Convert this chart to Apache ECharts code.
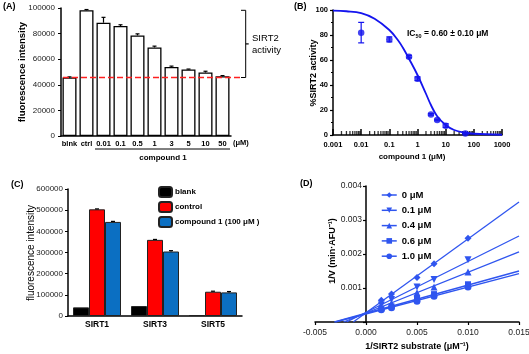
<!DOCTYPE html>
<html lang="en">
<head>
<meta charset="UTF-8">
<title>SIRT2 inhibition</title>
<script src="https://cdn.jsdelivr.net/npm/echarts@6/dist/echarts.min.js"></script>
<style>
    html, body { margin: 0; padding: 0; background: #fff; }
    #main { width: 529px; height: 354px; }
</style>
</head>
<body>
<div id="main"></div>
<script>
    // (A) fluorescence per concentration
    const aCats = ['blnk', 'ctrl', '0.01', '0.1', '0.5', '1', '3', '5', '10', '50'];
    const aValues = [45700, 98200, 88500, 85900, 78600, 69200, 54000, 52000, 49600, 46700];
    const aErrors = [500, 600, 4200, 1000, 1200, 1000, 600, 300, 1000, 500];

    // (B) dose response
    const bConc = [0.01, 0.1, 0.5, 1, 3, 5, 10, 50];
    const bActivity = [81.9, 76.5, 62.7, 45, 16.5, 12, 7.5, 1.3];
    const bErrors = [8.2, 2, 1, 1.5, 0.6, 0.6, 1.5, 0.5];
    const bCurveX = [0.001, 0.003, 0.01, 0.03, 0.1, 0.2, 0.3, 0.5, 1, 2, 3, 5, 10, 20, 50, 100, 1000];
    const bCurveY = [99.5, 99, 97.5, 93, 84, 76, 70, 61, 48, 33, 24, 15, 8, 4, 1.8, 1, 0.2];

    // (C) selectivity
    const cCats = ['SIRT1', 'SIRT3', 'SIRT5'];
    const cBlank = [40800, 47000, 4700];
    const cControl = [504000, 359700, 114700];
    const cControlErr = [2000, 2000, 2500];
    const cCompound = [444500, 304700, 111500];
    const cCompoundErr = [2500, 4000, 4000];

    // (D) Lineweaver-Burk
    const dSubstrate = [0.0015, 0.0025, 0.005, 0.00667, 0.01];
    const dNames = ['0 \u03bcM', '0.1 \u03bcM', '0.4 \u03bcM', '0.6 \u03bcM', '1.0 \u03bcM'];
    const dRates = [
        [0.00064, 0.00082, 0.00131, 0.00171, 0.00246],
        [0.00050, 0.00066, 0.00103, 0.00125, 0.00183],
        [0.00043, 0.00055, 0.00086, 0.00103, 0.00147],
        [0.00039, 0.00046, 0.00068, 0.00082, 0.00111],
        [0.00036, 0.00042, 0.00061, 0.00076, 0.00103]
    ];
    const dFitStartX = [-0.00125, -0.0019, -0.0022, -0.0031, -0.0030];
    const dFitEndX = 0.015;
    const dFitEndY = [0.00353, 0.00253, 0.00206, 0.00150, 0.00142];
    const dSymbols = ['diamond', 'path://M0,0 L10,0 L5,9 Z', 'triangle', 'rect', 'circle'];

    const FONT = 'Liberation Sans, Arial, sans-serif';
    const BLUE_B = '#1414ee';
    const BLUE_D = '#2f55ef';

    // log minor ticks for panel B
    const bMinorTicks = [];
    for (let d = -3; d < 3; d++) {
        for (let k = 2; k <= 9; k++) {
            bMinorTicks.push([parseFloat((k * Math.pow(10, d)).toPrecision(3)), 0]);
        }
    }

    function errorBar(color, capW, offset, both) {
        return function (params, api) {
            const x = api.value(0);
            const lo = api.coord([x, api.value(1)]);
            const hi = api.coord([x, api.value(2)]);
            const cx = lo[0] + offset;
            const st = { stroke: color, lineWidth: 1.2 };
            const kids = [
                { type: 'line', shape: { x1: cx, y1: lo[1], x2: cx, y2: hi[1] }, style: st },
                { type: 'line', shape: { x1: cx - capW / 2, y1: hi[1], x2: cx + capW / 2, y2: hi[1] }, style: st }
            ];
            if (both) {
                kids.push({ type: 'line', shape: { x1: cx - capW / 2, y1: lo[1], x2: cx + capW / 2, y2: lo[1] }, style: st });
            }
            return { type: 'group', children: kids };
        };
    }

    // red baseline + bracket right of panel A, y from data
    function bracket(params, api) {
        const cs = params.coordSys;
        const yTop = api.coord([0, api.value(1)])[1];
        const yBot = api.coord([0, api.value(2)])[1];
        const yMid = (yTop + yBot) / 2;
        const xr = cs.x + cs.width;
        const bx = xr + 14.7;
        const k = { stroke: '#000', lineWidth: 1 };
        return {
            type: 'group', children: [
                { type: 'line', shape: { x1: cs.x + 2, y1: yBot, x2: xr + 10, y2: yBot }, style: { stroke: '#ff2020', lineWidth: 1.5, lineDash: [6, 3] } },
                { type: 'polyline', shape: { points: [[xr + 10, yTop], [bx, yTop], [bx, yBot], [xr + 10, yBot]] }, style: Object.assign({ fill: null }, k) },
                { type: 'line', shape: { x1: bx, y1: yMid, x2: bx + 3, y2: yMid }, style: { stroke: '#000', lineWidth: 1.2 } }
            ]
        };
    }

    const axisBlack = { lineStyle: { color: '#000', width: 1.5 } };
    const tickTxt = { fontFamily: FONT, fontSize: 8, color: '#222' };
    const boldTxt = { fontFamily: FONT, fontSize: 7.5, fontWeight: 'bold', color: '#000' };

    function txt(x, y, text, size, bold, align) {
        return {
            type: 'text', x: x, y: y,
            style: {
                text: text, fontFamily: FONT, fontSize: size, fontWeight: bold ? 'bold' : 'normal',
                fill: '#000', textAlign: align || 'left', textVerticalAlign: 'middle'
            }
        };
    }
    function vtxt(x, y, text, size, bold) {
        return {
            type: 'text', x: x, y: y, rotation: Math.PI / 2,
            style: {
                text: text, fontFamily: FONT, fontSize: size, fontWeight: bold ? 'bold' : 'normal',
                fill: '#000', textAlign: 'center', textVerticalAlign: 'middle'
            }
        };
    }

    const dGridLeft = 315, dGridWidth = 204, dXMin = -0.005, dXMax = 0.015;

    const chart = echarts.init(document.getElementById('main'));
    const option = {
        animation: false,
        backgroundColor: '#fff',
        textStyle: { fontFamily: FONT },
        grid: [
            { left: 61, top: 8, width: 170, height: 128, outerBoundsMode: 'none' },
            { left: 333, top: 10, width: 169, height: 125, outerBoundsMode: 'none' },
            { left: 68, top: 189, width: 174, height: 127, outerBoundsMode: 'none' },
            { left: dGridLeft, top: 186, width: dGridWidth, height: 136, outerBoundsMode: 'none' }
        ],
        xAxis: [
            {
                gridIndex: 0, type: 'category', data: aCats,
                axisLine: axisBlack, axisTick: { show: false },
                axisLabel: Object.assign({ margin: 4, interval: 0 }, boldTxt)
            },
            { gridIndex: 0, type: 'value', min: 0, max: 1, show: false },
            {
                gridIndex: 1, type: 'log', logBase: 10, min: 0.001, max: 1000,
                axisLine: axisBlack,
                axisTick: { inside: true, length: 6, lineStyle: { width: 1.5, color: '#000' } },
                axisLabel: Object.assign({
                    margin: 6,
                    formatter: v => String(parseFloat(Number(v).toPrecision(6)))
                }, boldTxt),
                splitLine: { show: false }
            },
            {
                gridIndex: 2, type: 'category', data: cCats,
                axisLine: axisBlack, axisTick: { show: false },
                axisLabel: Object.assign({}, boldTxt, { margin: 4, fontSize: 8.5 })
            },
            {
                gridIndex: 3, type: 'value', min: dXMin, max: dXMax, interval: 0.005,
                axisLine: axisBlack,
                axisTick: { length: 3, lineStyle: { color: '#000', width: 1.2 } },
                axisLabel: Object.assign({}, tickTxt, { fontSize: 8.5, margin: 6, formatter: v => v.toFixed(3) }),
                splitLine: { show: false }
            }
        ],
        yAxis: [
            {
                gridIndex: 0, type: 'value', min: 0, max: 100000, interval: 20000,
                axisLine: { show: true, lineStyle: { color: '#000', width: 1.5 } },
                axisTick: { show: true, length: 3, lineStyle: { color: '#000' } },
                axisLabel: Object.assign({ margin: 6, formatter: v => String(v) }, tickTxt),
                splitLine: { show: false }
            },
            {
                gridIndex: 1, type: 'value', min: 0, max: 100, interval: 20,
                axisLine: { show: true, lineStyle: { color: '#000', width: 1.5 } },
                axisTick: { show: true, length: 3, lineStyle: { color: '#000', width: 1.2 } },
                minorTick: { show: true, splitNumber: 2, length: 2, lineStyle: { color: '#000' } },
                axisLabel: Object.assign({ margin: 5 }, boldTxt),
                splitLine: { show: false }
            },
            {
                gridIndex: 2, type: 'value', min: 0, max: 600000, interval: 100000,
                axisLine: { show: true, lineStyle: { color: '#000', width: 1.5 } },
                axisTick: { show: true, length: 3, lineStyle: { color: '#000' } },
                axisLabel: Object.assign({ margin: 5, formatter: v => String(v) }, tickTxt),
                splitLine: { show: false }
            },
            {
                gridIndex: 3, type: 'value', min: 0, max: 0.004, interval: 0.001,
                // place the axis at x = 0
                offset: -dGridWidth * (0 - dXMin) / (dXMax - dXMin),
                axisLine: { show: true, onZero: false, lineStyle: { color: '#000', width: 1.5 } },
                axisTick: { show: true, length: 3, lineStyle: { color: '#000', width: 1.2 } },
                axisLabel: Object.assign({}, tickTxt, {
                    fontSize: 8.5, margin: 4,
                    formatter: v => (v === 0 ? '' : v.toFixed(3))
                }),
                splitLine: { show: false }
            }
        ],
        legend: [
            {
                data: ['blank', 'control', 'compound 1 (100 \u03bcM )'],
                orient: 'vertical', left: 153, top: 181,
                itemWidth: 13, itemHeight: 10, itemGap: 3,
                textStyle: { fontFamily: FONT, fontSize: 8, fontWeight: 'bold', color: '#000', padding: [0, 0, 0, -2] }
            },
            {
                data: dNames,
                orient: 'vertical', left: 376, top: 185,
                itemWidth: 15, itemHeight: 7, itemGap: 5.3,
                lineStyle: { opacity: 1, width: 1.5, color: BLUE_D },
                textStyle: { fontFamily: FONT, fontSize: 9.5, fontWeight: 'bold', color: '#000' }
            }
        ],
        graphic: [
            txt(3, 7, '(A)', 9, true),
            txt(294, 7, '(B)', 9, true),
            txt(11, 185, '(C)', 9, true),
            txt(300, 184, '(D)', 9, true),
            txt(252, 38, 'SIRT2', 9.5, false),
            txt(252, 50, 'activity', 9.5, false),
            txt(233, 143, '(\u03bcM)', 7.5, true),
            { type: 'line', shape: { x1: 95, y1: 149, x2: 230, y2: 149 }, style: { stroke: '#000', lineWidth: 1 } },
            txt(163, 157.5, 'compound 1', 8, true, 'center'),
            vtxt(22, 72, 'fluorescence intensity', 9.5, true),
            vtxt(314, 73, '%SIRT2 activity', 9, true),
            txt(412, 157, 'compound 1 (\u03bcM)', 8, true, 'center'),
            {
                type: 'text', x: 407, y: 34,
                style: {
                    text: '{a|IC}{s|50}{a| = 0.60 \u00b1 0.10 \u03bcM}',
                    textVerticalAlign: 'middle',
                    rich: {
                        a: { fontFamily: FONT, fontSize: 8.5, fontWeight: 'bold', fill: '#000' },
                        s: { fontFamily: FONT, fontSize: 5.5, fontWeight: 'bold', fill: '#000', padding: [5, 0, 0, 0] }
                    }
                }
            },
            vtxt(31, 253, 'fluorescence intensity', 10, false),
            vtxt(333, 251, '1/V (min\u00b7AFU\u207b\u00b9)', 9, true),
            txt(417, 347, '1/SIRT2 substrate (\u03bcM\u207b\u00b9)', 9, true, 'center')
        ],
        series: [
            // ---- A ----
            {
                name: 'A bars', type: 'bar', xAxisIndex: 0, yAxisIndex: 0, data: aValues, barWidth: 14,
                itemStyle: { color: '#fff', borderColor: '#000', borderWidth: 1.3 }
            },
            {
                name: 'A err', type: 'custom', xAxisIndex: 0, yAxisIndex: 0, z: 5,
                renderItem: errorBar('#000', 4, 0, false),
                encode: { x: 0, y: [1, 2] },
                data: aValues.map((v, i) => [i, v, v + aErrors[i]])
            },
            {
                name: 'A bracket', type: 'custom', xAxisIndex: 1, yAxisIndex: 0, z: 6, silent: true,
                renderItem: bracket,
                encode: { x: 0, y: [1, 2] },
                data: [[0, aValues[1], aValues[0]]]
            },
            // ---- B ----
            {
                name: 'B fit', type: 'line', xAxisIndex: 2, yAxisIndex: 1, smooth: 0.4,
                symbol: 'none', lineStyle: { color: BLUE_B, width: 1.8 },
                data: bCurveX.map((x, i) => [x, bCurveY[i]])
            },
            {
                name: 'B points', type: 'scatter', xAxisIndex: 2, yAxisIndex: 1, symbolSize: 6.5,
                itemStyle: { color: BLUE_B },
                data: bConc.map((x, i) => [x, bActivity[i]])
            },
            {
                name: 'B err', type: 'custom', xAxisIndex: 2, yAxisIndex: 1,
                renderItem: errorBar(BLUE_B, 6, 0, true),
                encode: { x: 0, y: [1, 2] },
                data: bConc.map((x, i) => [x, bActivity[i] - bErrors[i], bActivity[i] + bErrors[i]])
            },
            {
                name: 'B minor ticks', type: 'scatter', xAxisIndex: 2, yAxisIndex: 1, silent: true,
                symbol: 'rect', symbolSize: [1.3, 4], symbolOffset: [0, -2], clip: false, z: 1,
                itemStyle: { color: '#000' },
                data: bMinorTicks
            },
            // ---- C ----
            {
                name: 'blank', type: 'bar', xAxisIndex: 3, yAxisIndex: 2, data: cBlank,
                barWidth: 16, barGap: '0%',
                itemStyle: { color: '#000', borderColor: '#222', borderWidth: 1 }
            },
            {
                name: 'control', type: 'bar', xAxisIndex: 3, yAxisIndex: 2, data: cControl,
                barWidth: 16, barGap: '0%',
                itemStyle: { color: '#ff0000', borderColor: '#222', borderWidth: 1 }
            },
            {
                name: 'compound 1 (100 \u03bcM )', type: 'bar', xAxisIndex: 3, yAxisIndex: 2, data: cCompound,
                barWidth: 16, barGap: '0%',
                itemStyle: { color: '#0b6fc2', borderColor: '#222', borderWidth: 1 }
            },
            {
                name: 'C err control', type: 'custom', xAxisIndex: 3, yAxisIndex: 2, z: 5,
                renderItem: errorBar('#000', 4, 0, false),
                encode: { x: 0, y: [1, 2] },
                data: cControl.map((v, i) => [i, v, v + cControlErr[i]])
            },
            {
                name: 'C err compound', type: 'custom', xAxisIndex: 3, yAxisIndex: 2, z: 5,
                renderItem: errorBar('#000', 4, 16, false),
                encode: { x: 0, y: [1, 2] },
                data: cCompound.map((v, i) => [i, v, v + cCompoundErr[i]])
            }
        ]
    };

    // ---- D ----
    dNames.forEach(function (name, k) {
        option.series.push({
            name: 'fit ' + name, type: 'line', xAxisIndex: 4, yAxisIndex: 3,
            symbol: 'none', silent: true,
            lineStyle: { color: BLUE_D, width: 1.3 },
            data: [[dFitStartX[k], 0], [dFitEndX, dFitEndY[k]]]
        });
        option.series.push({
            name: name, type: 'line', xAxisIndex: 4, yAxisIndex: 3,
            symbol: dSymbols[k], symbolSize: k === 3 ? 6 : 7, showAllSymbol: true,
            itemStyle: { color: BLUE_D },
            lineStyle: { color: BLUE_D, opacity: 0 },
            data: dSubstrate.map((x, i) => [x, dRates[k][i]])
        });
    });

    chart.setOption(option);
</script>
</body>
</html>
